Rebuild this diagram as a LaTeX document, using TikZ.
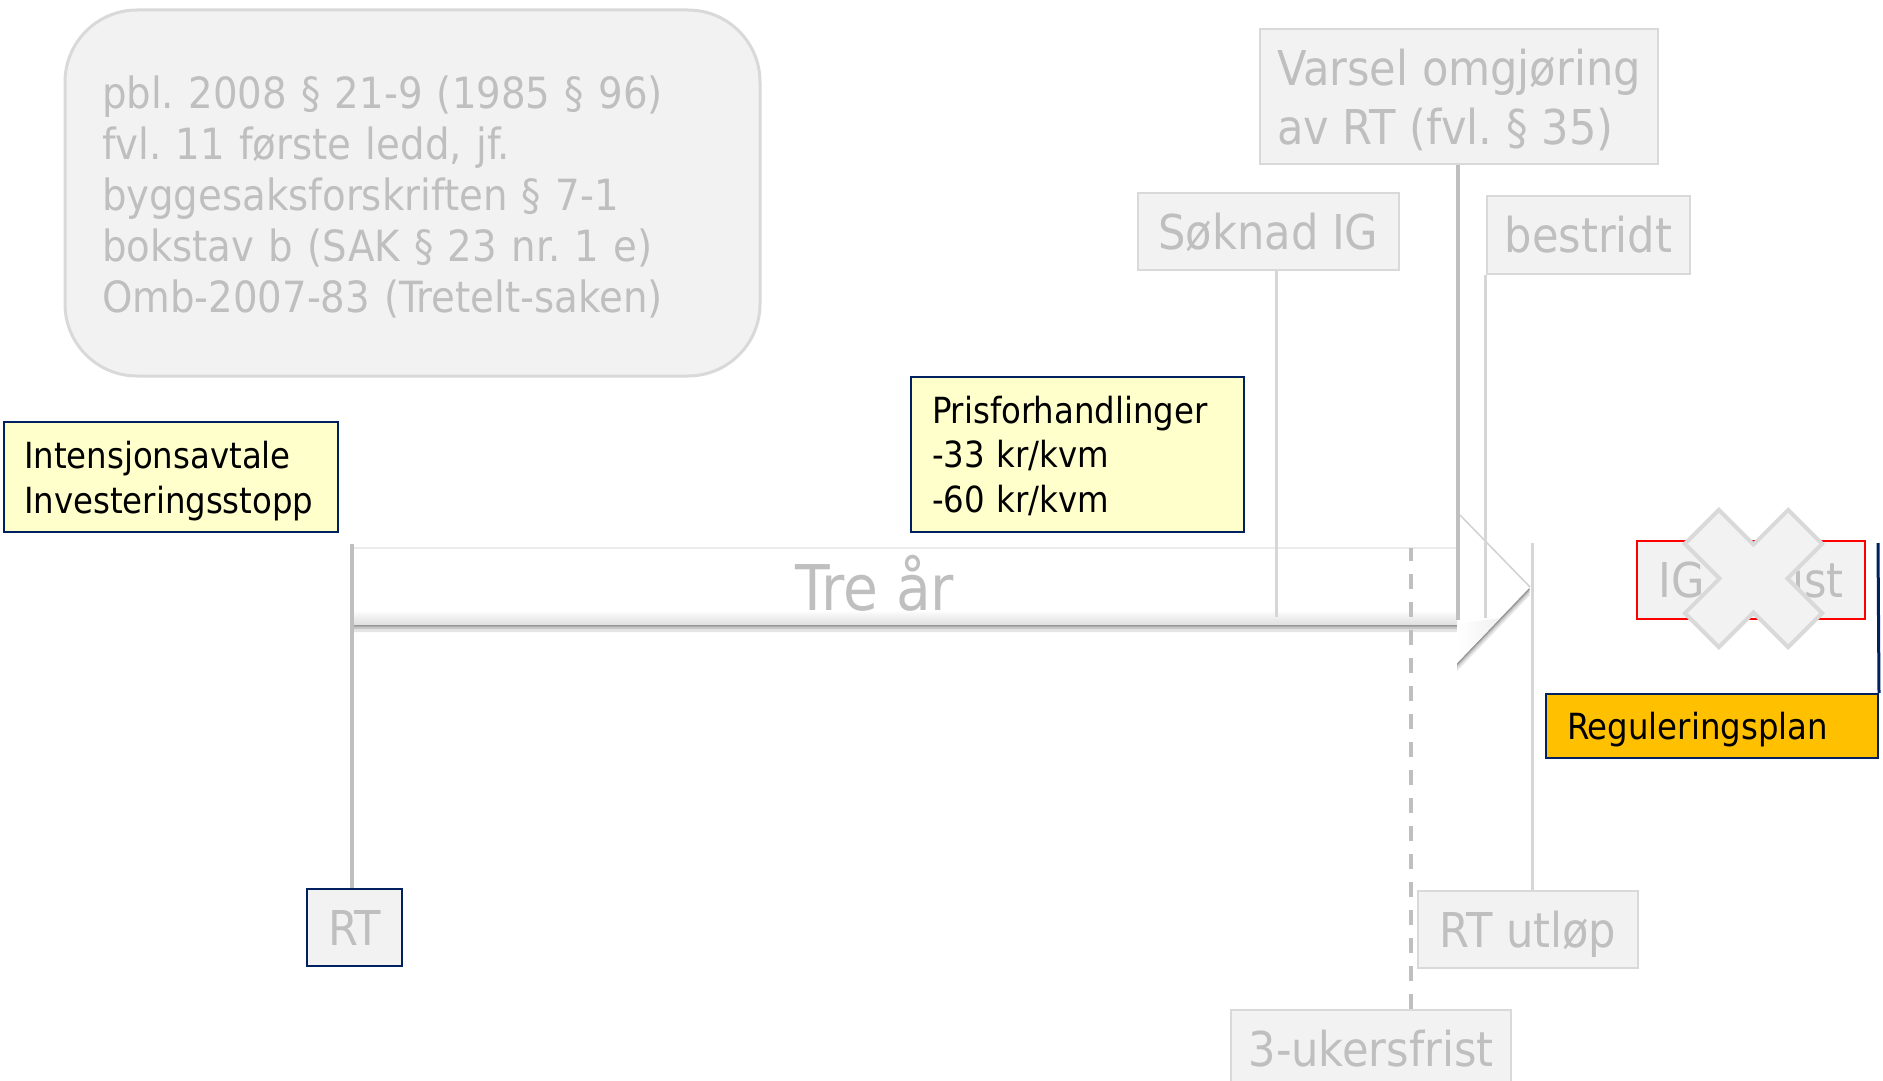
\documentclass[tikz,border=0pt]{standalone}
\usepackage{fontspec}
\setmainfont{DejaVu Sans Condensed}
\frenchspacing
\definecolor{boxfill}{HTML}{F2F2F2}
\definecolor{boxline}{HTML}{D9D9D9}
\definecolor{greytext}{HTML}{BFBFBF}
\definecolor{navy}{HTML}{002060}
\definecolor{paleyellow}{HTML}{FFFFCC}
\definecolor{amber}{HTML}{FFC000}
\definecolor{redline}{HTML}{FF0000}
\definecolor{connA}{HTML}{BFBFBF}
\definecolor{connB}{HTML}{D6D6D6}
\tikzset{
  greyplain/.style={draw=boxline, line width=2.5pt, fill=boxfill, text=greytext,
    font=\fontsize{48}{59}\selectfont, inner ysep=0pt},
  greybox/.style={greyplain, inner sep=0pt, text height=35pt, text depth=0pt},
  legalbox/.style={draw=boxline, line width=3pt, fill=boxfill, rounded corners=72pt,
    text=greytext, font=\fontsize{43}{51}\selectfont, align=left, inner ysep=0pt},
  notebox/.style={draw=navy, line width=2pt, fill=paleyellow, text=black,
    font=\fontsize{36}{44.5}\selectfont, align=left, inner ysep=0pt},
  planbox/.style={draw=navy, line width=2pt, fill=amber, text=black,
    font=\fontsize{36}{44}\selectfont, inner ysep=0pt, text height=26pt, text depth=0pt},
  rtbox/.style={draw=navy, line width=2pt, fill=boxfill, text=greytext,
    font=\fontsize{48}{58}\selectfont, inner sep=0pt, text height=35pt, text depth=0pt},
  conA/.style={draw=connA, line width=3.5pt},
  conB/.style={draw=connB, line width=3pt},
  dashcon/.style={draw=connA, line width=3.5pt, dash pattern=on 15pt off 13pt},
  navycon/.style={draw=navy, line width=3pt},
}
\begin{document}
\begin{tikzpicture}[x=1pt,y=-1pt]
\useasboundingbox (0,0) rectangle (1883,1081);
\clip (0,0) rectangle (1883,1081);

% legal reference box
\node[legalbox, minimum width=695pt, minimum height=366pt, text width=621pt, inner xsep=37pt]
  (legal) at (412.5,193)
  {\rule{0pt}{40pt}pbl. 2008 § 21-9 (1985 § 96)\\fvl. 11 første ledd, jf.\\byggesaksforskriften § 7-1\\bokstav b (SAK § 23 nr. 1 e)\\Omb-2007-83 (Tretelt-saken)};

% big arrow with shadow
\coordinate (a1) at (352,548);
\coordinate (a2) at (1457,548);
\coordinate (a3) at (1457,512);
\coordinate (a4) at (1530,587);
\coordinate (a5) at (1457,663);
\coordinate (a6) at (1457,624);
\coordinate (a7) at (352,624);
\fill[black!10] ([yshift=-8pt]a1) -- ([yshift=-8pt]a2) -- ([yshift=-8pt]a3) -- ([yshift=-8pt]a4) -- ([yshift=-8pt]a5) -- ([yshift=-8pt]a6) -- ([yshift=-8pt]a7) -- cycle;
\fill[black!22] ([yshift=-5pt]a1) -- ([yshift=-5pt]a2) -- ([yshift=-5pt]a3) -- ([yshift=-5pt]a4) -- ([yshift=-5pt]a5) -- ([yshift=-5pt]a6) -- ([yshift=-5pt]a7) -- cycle;
\fill[black!40] ([yshift=-2.5pt]a1) -- ([yshift=-2.5pt]a2) -- ([yshift=-2.5pt]a3) -- ([yshift=-2.5pt]a4) -- ([yshift=-2.5pt]a5) -- ([yshift=-2.5pt]a6) -- ([yshift=-2.5pt]a7) -- cycle;
\fill[white] (a1) -- (a2) -- (a3) -- (a4) -- (a5) -- (a6) -- (a7) -- cycle;
\shade[top color=white, bottom color=black!12] (352,610) rectangle (1457,624);
\shade[left color=white, right color=black!10] (1457,624) -- (1500,618) -- (1530,587) -- (1457,663) -- cycle;
\draw[black!8, line width=1.5pt] (a1) -- (a2);
\draw[black!18, line width=1.5pt] (a3) -- (a4);
\node[text=greytext, font=\fontsize{63}{70}\selectfont, inner sep=0pt, text height=46pt, text depth=0pt] (trear) at (875,587) {Tre år};

% label boxes
\node[notebox, minimum width=334pt, minimum height=110pt, text width=294pt, inner xsep=20pt]
  (intens) at (171,477) {\rule{0pt}{35pt}Intensjonsavtale\\Investeringsstopp};
\node[notebox, minimum width=333pt, minimum height=155pt, text width=291pt, inner xsep=21pt]
  (pris) at (1077.5,454.5) {\rule{0pt}{29.5pt}Prisforhandlinger\\-33 kr/kvm\\-60 kr/kvm};
\node[greybox, minimum width=261pt, minimum height=77pt] (soknad) at (1268.5,231.5) {Søknad IG};
\node[greyplain, minimum width=398pt, minimum height=135pt, inner xsep=10pt, align=left]
  (varsel) at (1459,96.5) {\rule{0pt}{44pt}Varsel omgjøring\\av RT (fvl. § 35)};
\node[greybox, minimum width=203pt, minimum height=78pt] (bestridt) at (1588.5,235) {bestridt};
\node[greybox, minimum width=220pt, minimum height=77pt] (rtutlop) at (1528,929.5) {RT utløp};
\node[greybox, minimum width=280pt, minimum height=77pt] (ukers) at (1371,1048.5) {3-ukersfrist};
\node[rtbox, minimum width=95pt, minimum height=77pt] (rt) at (354.5,927.5) {RT};
\node[greybox, draw=redline, line width=2pt, minimum width=228pt, minimum height=78pt] (igfrist) at (1751,580) {\makebox[185pt][s]{IG frist}};
\node[planbox, minimum width=332pt, minimum height=64pt, text width=290pt, inner xsep=21pt, align=left]
  (regplan) at (1712,726) {Reguleringsplan};

% crossing-out mark
\draw[fill=boxfill, draw=boxline, line width=4pt, shift={(1753.5,578.5)}, rotate=45]
  (24,24) -- (73,24) -- (73,-24) -- (24,-24) -- (24,-73) -- (-24,-73) -- (-24,-24)
  -- (-73,-24) -- (-73,24) -- (-24,24) -- (-24,73) -- (24,73) -- cycle;

% connector end points
\coordinate (rttop) at (352,544);
\coordinate (skend) at (1276,617);
\coordinate (vend) at (1458,620);
\coordinate (bend) at (1487,618);
\coordinate (utop) at (1532,543);
\coordinate (dtop) at (1411,548);
\coordinate (regtop) at (1878,543);

% connectors
\draw[conA] (rt.north -| rttop) -- (rttop);
\draw[conB] (soknad.south -| skend) -- (skend);
\draw[conA] (varsel.south -| vend) -- (vend);
\draw[conB] (bestridt.south west) -- (bestridt.south west |- bend);
\draw[conB] (rtutlop.north -| utop) -- (utop);
\draw[dashcon] (ukers.north -| dtop) -- (dtop);
\draw[navycon] (regplan.north east) -- (regtop);
\end{tikzpicture}
\end{document}
